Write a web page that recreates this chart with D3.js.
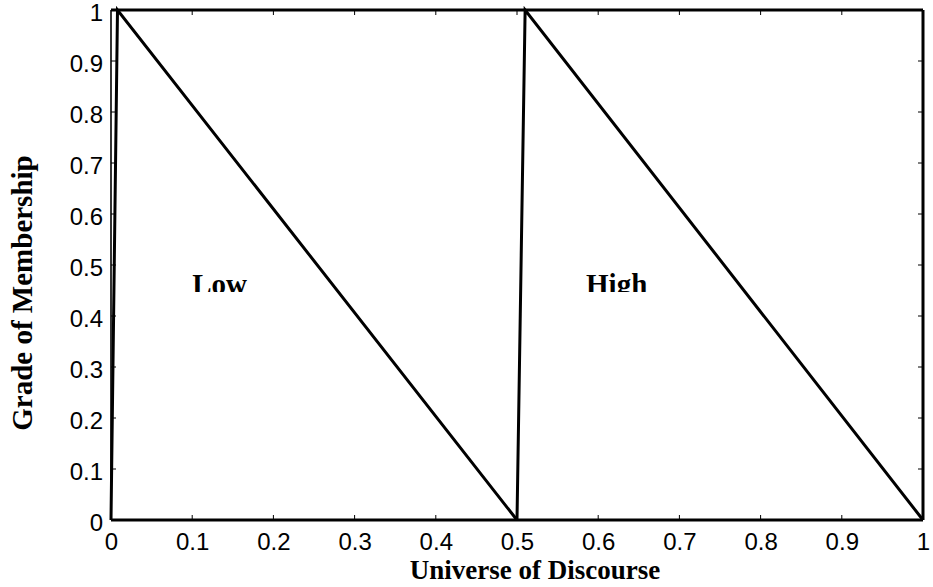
<!DOCTYPE html>
<html>
<head>
<meta charset="utf-8">
<script src="https://cdn.jsdelivr.net/npm/d3@7"></script>
<style>
  body { margin: 0; background: #fff; }
  svg { display: block; }
</style>
</head>
<body>
<div id="chart"></div>
<script>
// membership functions (x, grade)
const lowSet = [[0, 0], [0.008, 1], [0.5, 0]];
const highSet = [[0.5, 0], [0.51, 1], [1, 0]];
const xTicks = [0, 0.1, 0.2, 0.3, 0.4, 0.5, 0.6, 0.7, 0.8, 0.9, 1];
const yTicks = [0, 0.1, 0.2, 0.3, 0.4, 0.5, 0.6, 0.7, 0.8, 0.9, 1];
const setLabels = [{ name: "Low", x: 0.1 }, { name: "High", x: 0.585 }];

const width = 933, height = 587;
const margin = { top: 10, right: 10, bottom: 67, left: 111 };

const svg = d3.select("#chart").append("svg")
    .attr("width", width)
    .attr("height", height);

const x = d3.scaleLinear().domain([0, 1]).range([margin.left, width - margin.right]);
const y = d3.scaleLinear().domain([0, 1]).range([height - margin.bottom, margin.top]);

// tick labels
const fmt = d => d === 0 || d === 1 ? String(d) : d.toFixed(1);

svg.append("g")
    .attr("transform", `translate(0,${y(0)})`)
    .call(d3.axisBottom(x).tickValues(xTicks).tickFormat(fmt).tickSize(0).tickPadding(13))
    .call(g => g.select(".domain").remove())
    .selectAll("text")
    .attr("font-family", "Liberation Sans, Arial, sans-serif")
    .attr("font-size", 24)
    .attr("fill", "#000");

svg.append("g")
    .attr("transform", `translate(${x(0)},0)`)
    .call(d3.axisLeft(y).tickValues(yTicks).tickFormat(fmt).tickSize(0).tickPadding(8))
    .call(g => g.select(".domain").remove())
    .selectAll("text")
    .attr("font-family", "Liberation Sans, Arial, sans-serif")
    .attr("font-size", 24)
    .attr("dy", "0.42em")
    .attr("fill", "#000");

// inward ticks on all four sides
const tk = 5;
const ticks = svg.append("g").attr("stroke", "#000").attr("stroke-width", 1);
xTicks.slice(1, -1).forEach(t => {
    ticks.append("line").attr("x1", x(t)).attr("x2", x(t)).attr("y1", y(0)).attr("y2", y(0) - tk);
    ticks.append("line").attr("x1", x(t)).attr("x2", x(t)).attr("y1", y(1)).attr("y2", y(1) + tk);
});
yTicks.slice(1, -1).forEach(t => {
    ticks.append("line").attr("x1", x(0)).attr("x2", x(0) + tk).attr("y1", y(t)).attr("y2", y(t));
    ticks.append("line").attr("x1", x(1)).attr("x2", x(1) - tk).attr("y1", y(t)).attr("y2", y(t));
});

// frame
const frame = svg.append("g").attr("stroke", "#000").attr("fill", "none");
frame.append("line").attr("x1", x(0)).attr("x2", x(0)).attr("y1", y(0)).attr("y2", y(1)).attr("stroke-width", 1.6);
frame.append("line").attr("x1", x(0)).attr("x2", x(1)).attr("y1", y(1)).attr("y2", y(1)).attr("stroke-width", 3);
frame.append("line").attr("x1", x(1)).attr("x2", x(1)).attr("y1", y(1)).attr("y2", y(0)).attr("stroke-width", 3);
frame.append("line").attr("x1", x(0)).attr("x2", x(1)).attr("y1", y(0)).attr("y2", y(0)).attr("stroke-width", 3);

// curves
const line = d3.line().x(d => x(d[0])).y(d => y(d[1]));
[lowSet, highSet].forEach(s => {
    svg.append("path")
        .datum(s)
        .attr("d", line)
        .attr("fill", "none")
        .attr("stroke", "#000")
        .attr("stroke-width", 3)
        .attr("stroke-linejoin", "miter");
});

// set labels, bottom clipped like the original
svg.append("clipPath").attr("id", "lblclip")
    .append("rect").attr("x", 0).attr("y", 0).attr("width", width).attr("height", 292);

svg.append("g").attr("clip-path", "url(#lblclip)")
    .selectAll("text")
    .data(setLabels)
    .enter().append("text")
    .attr("x", d => x(d.x))
    .attr("y", 294)
    .attr("font-family", "Liberation Serif, Times New Roman, serif")
    .attr("font-weight", "bold")
    .attr("font-size", 29)
    .attr("fill", "#000")
    .text(d => d.name);

// axis titles
svg.append("text")
    .attr("x", 535)
    .attr("y", 579)
    .attr("text-anchor", "middle")
    .attr("font-family", "Liberation Serif, Times New Roman, serif")
    .attr("font-weight", "bold")
    .attr("font-size", 27)
    .text("Universe of Discourse");

svg.append("text")
    .attr("transform", "translate(32,293) rotate(-90)")
    .attr("text-anchor", "middle")
    .attr("font-family", "Liberation Serif, Times New Roman, serif")
    .attr("font-weight", "bold")
    .attr("font-size", 29)
    .text("Grade of Membership");
</script>
</body>
</html>
